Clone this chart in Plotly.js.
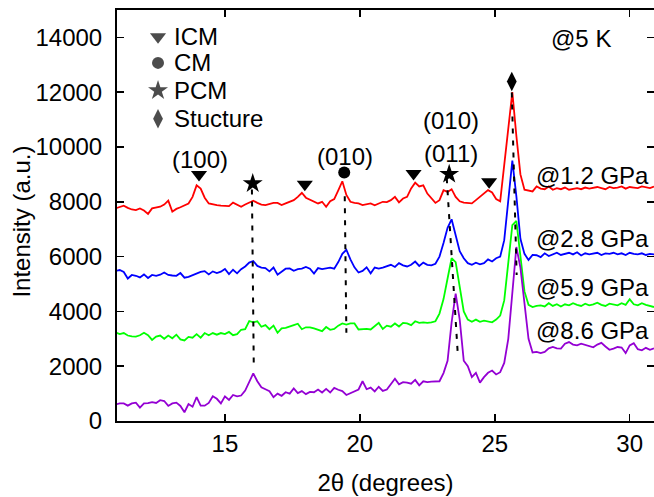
<!DOCTYPE html>
<html>
<head>
<meta charset="utf-8">
<script src="https://cdn.plot.ly/plotly-3.0.1.min.js"></script>
<style>
  html, body { margin: 0; padding: 0; background: #ffffff; }
  #chart { width: 654px; height: 497px; }
</style>
</head>
<body>
<div id="chart"></div>
<script>
// Scan grid in 2θ (degrees)
const scanStart = 10.95;
const scanStep = 0.15;
const scanPoints = 134;
const twoTheta = Array.from({ length: scanPoints }, (_, k) => +(scanStart + scanStep * k).toFixed(2));

// Diffracted intensity (a.u.) at 5 K for each pressure, offset for clarity
const int1p2GPa = [
  7760, 7820, 7860, 7780, 7720, 7700, 7760, 7680, 7560, 7760,
  7780, 7820, 7900, 8040, 7640, 7740, 7800, 7860, 7940, 8180,
  8600, 8480, 8150, 7940, 7900, 7880, 7860, 7850, 7840, 7970,
  7900, 7820, 7900, 7980, 8040, 7960, 7900, 7880, 7920, 7960,
  7960, 7880, 7940, 8000, 8060, 8180, 8330, 8150, 8080, 8040,
  7940, 8000, 7820, 8020, 8100, 8420, 8750, 8250, 8000, 7960,
  7940, 7880, 7920, 7940, 7870, 7940, 8000, 7990, 8060, 8180,
  7980, 8120, 8180, 8490, 8700, 8560, 8600, 8300, 8120, 7960,
  8060, 8420, 8360, 8460, 8180, 8020, 7970, 7960, 7940, 8060,
  8180, 8300, 8425, 8340, 8100, 8020, 9300, 10800, 12000, 10400,
  9000, 8440, 8400, 8380, 8560, 8480, 8460, 8560, 8440, 8500,
  8460, 8520, 8440, 8480, 8500, 8460, 8520, 8480, 8500, 8540,
  8500, 8460, 8540, 8500, 8520, 8560, 8480, 8540, 8520, 8500,
  8560, 8540, 8500, 8560
];
const int2p8GPa = [
  5480, 5510, 5440, 5200, 5330, 5300, 5240, 5350, 5220, 5330,
  5300, 5340, 5420, 5330, 5310, 5300, 5400, 5230, 5260, 5320,
  5380, 5440, 5470, 5350, 5460, 5400, 5450, 5550, 5360, 5520,
  5390, 5540, 5640, 5780, 5840, 5660, 5600, 5580, 5460, 5600,
  5340, 5440, 5560, 5570, 5480, 5540, 5560, 5620, 5560, 5380,
  5580, 5540, 5570, 5600, 5560, 5800, 6100, 6250, 5900, 5610,
  5420, 5480, 5610, 5390, 5600, 5560, 5600, 5640, 5700, 5620,
  5760, 5680, 5640, 5700, 5820, 5660, 5780, 5700, 5680, 5740,
  6000, 6500, 7050, 7360, 6800, 6200, 5940, 5760, 5700, 5780,
  5720, 5760, 5900, 5820, 5940, 6000, 6600, 8000, 9500, 8200,
  6650, 6100, 5880, 6060, 6050, 5980, 6120, 6020, 6080, 6140,
  6060, 6100, 6140, 6080, 6160, 6040, 6120, 6080, 6100, 6140,
  6060, 6120, 6100, 6140, 6080, 6120, 6060, 6140, 6100, 6080,
  6120, 6060, 6100, 6080
];
const int5p9GPa = [
  3230, 3170, 3210, 3120, 3090, 3080, 3130, 3220, 3130, 2960,
  3080, 3120, 3000, 3120, 3020, 3150, 2980, 2940, 3070, 3040,
  3170, 3040, 3210, 3130, 3210, 3150, 3210, 3170, 3250, 3130,
  3170, 3330, 3350, 3650, 3600, 3640, 3440, 3500, 3350, 3480,
  3220, 3380, 3400, 3460, 3500, 3550, 3350, 3420, 3420, 3380,
  3330, 3280, 3430, 3330, 3360, 3480, 3560, 3520, 3560, 3560,
  3340, 3350, 3360, 3340, 3460, 3580, 3360, 3480, 3440, 3560,
  3450, 3580, 3560, 3500, 3640, 3580, 3600, 3580, 3600, 3640,
  3920, 4450, 5200, 5940, 5800, 4900, 4000, 3700, 3620, 3700,
  3620, 3660, 3640, 3600, 3700, 3850, 4400, 5700, 7150, 7300,
  6100, 4730, 4240, 4160, 4200, 4220, 4180, 4300, 4200, 4260,
  4180, 4260, 4220, 4300, 4240, 4200, 4280, 4220, 4260, 4320,
  4240, 4200, 4280, 4260, 4220, 4300, 4240, 4440, 4260, 4220,
  4300, 4240, 4200, 4160
];
const int8p6GPa = [
  606, 640, 640, 560, 640, 670, 490, 640, 650, 690,
  660, 760, 730, 550, 640, 670, 550, 320, 620, 520,
  870, 560, 560, 660, 900, 810, 640, 900, 770, 950,
  900, 930, 1110, 1400, 1740, 1450, 1230, 1160, 1090, 870,
  1000, 920, 1050, 1000, 1190, 1020, 1090, 980, 1060, 1050,
  1150, 1040, 1170, 1040, 1210, 1140, 1090, 950, 1020, 1060,
  1150, 1450, 1160, 1220, 1080, 1250, 1100, 1150, 1330, 1540,
  1340, 1420, 1400, 1360, 1500, 1300, 1450, 1420, 1440, 1450,
  1450, 1750, 2200, 3600, 4650, 3700, 2200, 2000, 1600, 1760,
  1400, 1600, 1760, 1840, 1700, 1780, 2120, 3000, 4800, 6350,
  5600, 4300, 3000, 2500, 2520, 2480, 2520, 2650, 2700, 2650,
  2640, 2820, 2880, 2790, 2760, 2820, 2780, 2740, 2690, 2790,
  2850, 2720, 2600, 2640, 2700, 2680, 2480, 2760, 2840, 2620,
  2580, 2670, 2600, 2650
];

const seriesNames = ['@1.2 GPa', '@2.8 GPa', '@5.9 GPa', '@8.6 GPa'];
const seriesValues = [int1p2GPa, int2p8GPa, int5p9GPa, int8p6GPa];
const seriesColors = ['#ff0000', '#0000ff', '#00ff00', '#9400d3'];
// label anchor heights for the pressure tags
const seriesLabelY = [8970, 6670, 4860, 3300];

// Peak guides (dashed) following the shift with pressure
const guideX = [[16.0, 16.07], [19.44, 19.5], [23.22, 23.63], [25.63, 25.81]];
const guideY = [[8450, 1880], [8200, 3220], [8860, 2420], [11990, 5330]];

// Peak assignments
const icmX = [14.04, 17.96, 21.99, 24.79];
const icmY = [9000, 8640, 9030, 8730];
const cmX = [19.42];
const cmY = [9070];
const pcmX = [16.03, 23.31];
const pcmY = [8670, 9010];
const structX = [25.63];
const structY = [12390];

// Key entries
const keyNames = ['ICM', 'CM', 'PCM', 'Stucture'];
const keySymbols = ['triangle-down', 'circle', 'star', 'diamond-tall'];
const keyX = 12.52;
const keyTextX = 13.02;
const keyY = [14025, 13070, 12060, 11030];

// Miller index labels
const hklText = ['(100)', '(010)', '(010)', '(011)'];
const hklX = [14.07, 19.44, 23.37, 23.37];
const hklY = [9560, 9660, 10970, 9770];

// Axis ticks and titles
const xTicks = [15, 20, 25, 30];
const yTicks = [0, 2000, 4000, 6000, 8000, 10000, 12000, 14000];
const xTitle = '2θ (degrees)';
const yTitle = 'Intensity (a.u.)';

const FONT = 'Liberation Sans, Arial, Helvetica, sans-serif';
const FS = 24;

// marker sizes per symbol
const symbolSize = { 'triangle-down': 14, 'circle': 12, 'star': 15, 'diamond-tall': 14 };

const traces = [];
seriesValues.forEach((vals, i) => {
  traces.push({
    x: twoTheta, y: vals, type: 'scatter', mode: 'lines', name: seriesNames[i],
    line: { color: seriesColors[i], width: 1.8 }, hoverinfo: 'skip'
  });
});
guideX.forEach((gx, i) => {
  traces.push({
    x: gx, y: guideY[i], type: 'scatter', mode: 'lines',
    line: { color: '#000000', width: 2, dash: '5px,7px' }, hoverinfo: 'skip'
  });
});
const markerSets = [
  [icmX, icmY, 'triangle-down'],
  [cmX, cmY, 'circle'],
  [pcmX, pcmY, 'star'],
  [structX, structY, 'diamond-tall']
];
markerSets.forEach(([mx, my, sym]) => {
  traces.push({
    x: mx, y: my, type: 'scatter', mode: 'markers',
    marker: { symbol: sym, size: symbolSize[sym], color: '#000000', line: { width: 0 } },
    hoverinfo: 'skip'
  });
});
traces.push({
  x: keyNames.map(() => keyX), y: keyY, type: 'scatter', mode: 'markers',
  marker: { symbol: keySymbols, size: keySymbols.map(s => symbolSize[s]), color: '#000000', line: { width: 0 } },
  hoverinfo: 'skip'
});
// invisible trace carrying the right-hand tick marks
traces.push({ x: [twoTheta[0]], y: [0], yaxis: 'y2', type: 'scatter', mode: 'markers',
  marker: { opacity: 0 }, hoverinfo: 'skip' });

const annotations = [];
keyNames.forEach((t, i) => annotations.push({
  x: keyTextX, y: keyY[i], text: t, showarrow: false, xanchor: 'left', yanchor: 'middle',
  font: { family: FONT, size: FS, color: '#000' }
}));
hklText.forEach((t, i) => annotations.push({
  x: hklX[i], y: hklY[i], text: t, showarrow: false, xanchor: 'center', yanchor: 'middle',
  font: { family: FONT, size: FS, color: '#000' }
}));
seriesNames.forEach((t, i) => annotations.push({
  x: 30.78, y: seriesLabelY[i], text: t, showarrow: false, xanchor: 'right', yanchor: 'middle',
  font: { family: FONT, size: FS, color: '#000' }
}));
annotations.push({
  x: 28.19, y: 13970, text: '@5 K', showarrow: false, xanchor: 'center', yanchor: 'middle',
  font: { family: FONT, size: FS, color: '#000' }
});
// vertical axis title, placed beside the tick labels
annotations.push({
  xref: 'paper', yref: 'paper', x: -0.177, y: 0.485, text: yTitle, textangle: -90,
  showarrow: false, xanchor: 'center', yanchor: 'middle',
  font: { family: FONT, size: FS, color: '#000' }
});

const layout = {
  width: 654, height: 497,
  margin: { l: 117, r: 0, t: 10, b: 76, pad: 0 },
  paper_bgcolor: '#ffffff', plot_bgcolor: '#ffffff',
  showlegend: false,
  font: { family: FONT, size: FS, color: '#000' },
  xaxis: {
    range: [11, 30.9], tickvals: xTicks, ticktext: xTicks.map(String),
    ticks: 'inside', ticklen: 7, tickwidth: 1.5,
    tickcolor: '#000', showline: true, linecolor: '#000', linewidth: 2, mirror: 'ticks',
    showgrid: false, zeroline: false, ticklabelstandoff: 0,
    tickfont: { family: FONT, size: FS, color: '#000' },
    title: { text: xTitle, font: { family: FONT, size: FS, color: '#000' }, standoff: 18 }
  },
  yaxis: {
    range: [0, 15000], tickvals: yTicks, ticktext: yTicks.map(String),
    ticks: 'inside', ticklen: 7, tickwidth: 1.5, tickcolor: '#000',
    showline: true, linecolor: '#000', linewidth: 2, mirror: false,
    showgrid: false, zeroline: false, ticklabelstandoff: 8,
    tickfont: { family: FONT, size: FS, color: '#000' }
  },
  yaxis2: {
    range: [0, 15000], overlaying: 'y', side: 'right',
    tickvals: yTicks,
    ticks: 'inside', ticklen: 7, tickwidth: 1.5, tickcolor: '#000',
    showticklabels: false, showline: false, showgrid: false, zeroline: false
  },
  annotations: annotations
};

Plotly.newPlot('chart', traces, layout, { staticPlot: true, displayModeBar: false });
</script>
</body>
</html>
